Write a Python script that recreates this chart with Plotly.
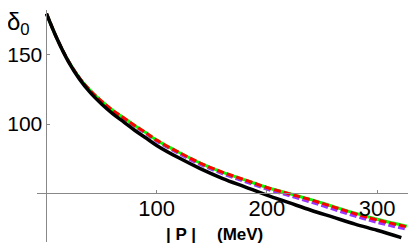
import plotly.graph_objects as go

# Momentum |P| (MeV)
p_black = [0, 10, 20, 30, 40, 50, 60, 70, 80, 90, 100, 120, 140, 160, 180, 200, 220, 240, 260, 280, 300, 322]
delta_black = [180, 161, 145, 132.5, 122.5, 114.5, 107.5, 101.5, 95.5, 90, 84.5, 75.5, 67.5, 60.5, 54.5, 48.5, 43, 37.5, 32.5, 27.5, 23, 17.7]

p_col = [0, 10, 20, 30, 40, 50, 60, 70, 80, 90, 100, 120, 140, 160, 180, 200, 220, 240, 260, 280, 300, 327]
delta_red = [180, 161, 145.5, 133.3, 124, 116.5, 110, 104.5, 99, 93.8, 88.3, 79.5, 71.5, 65, 59.5, 54, 49.5, 45, 40, 35, 30.5, 25.5]
delta_green = [180, 161, 145.5, 133.3, 124, 116.5, 110, 104.5, 99, 93.8, 88.3, 79.5, 71.5, 65, 59.5, 54, 49.6, 45.2, 40.3, 35.4, 31, 26]
delta_purple = [180, 161, 145.5, 133.3, 124, 116.3, 109.7, 104.1, 98.5, 93.2, 87.6, 78.6, 70.5, 63.9, 58.3, 52.8, 48.1, 43.4, 38.3, 33.3, 28.7, 23.7]

x_ticks = [100, 200, 300]
y_ticks = [100, 150]

FONT = "Liberation Sans, Arial, sans-serif"

fig = go.Figure()
fig.add_trace(go.Scatter(x=p_col, y=delta_purple, mode="lines", line=dict(color="#9933FF", width=3, dash="7px,3px", shape="spline")))
fig.add_trace(go.Scatter(x=p_col, y=delta_green, mode="lines", line=dict(color="#00FF00", width=3, shape="spline")))
fig.add_trace(go.Scatter(x=p_col, y=delta_red, mode="lines", line=dict(color="#FF0000", width=3, dash="7px,3px", shape="spline")))
fig.add_trace(go.Scatter(x=p_black, y=delta_black, mode="lines", line=dict(color="black", width=3.5, shape="spline")))

xr = [-8.6, 335.3]
yr = [14.5, 182.6]
x_pos = (0 - xr[0]) / (xr[1] - xr[0])
y_pos = (50 - yr[0]) / (yr[1] - yr[0])

# The page body adds an 8px offset; margins compensate for it.
fig.update_layout(
    width=416, height=248,
    margin=dict(l=29, r=8, t=2, b=14, pad=0, autoexpand=False),
    paper_bgcolor="white", plot_bgcolor="white",
    showlegend=False,
    xaxis=dict(range=xr, anchor="free", position=y_pos, showline=True, linecolor="#888888", linewidth=1,
               ticks="inside", ticklen=3, tickcolor="#888888", tickvals=x_ticks, automargin=False,
               ticklabelstandoff=-4,
               tickfont=dict(family=FONT, size=22, color="black"),
               showgrid=False, zeroline=False),
    yaxis=dict(range=yr, anchor="free", position=x_pos, showline=True, linecolor="#888888", linewidth=1,
               ticks="inside", ticklen=3, tickcolor="#888888", tickvals=y_ticks, automargin=False,
               tickfont=dict(family=FONT, size=21, color="black"),
               showgrid=False, zeroline=False),
    annotations=[
        dict(text="δ<sub>0</sub>", xref="paper", yref="paper", x=-0.05, y=0.94, xanchor="center", yanchor="middle",
             showarrow=False, font=dict(family=FONT, size=24, color="black")),
        dict(text="<b>| P |</b>", xref="x", yref="paper", x=(181 - 46.5) / 1.102, y=0.0, xanchor="center", yanchor="middle",
             yshift=8, showarrow=False, font=dict(family=FONT, size=17, color="black")),
        dict(text="<b>(MeV)</b>", xref="x", yref="paper", x=(240 - 46.5) / 1.102, y=0.0, xanchor="center", yanchor="middle",
             yshift=8, showarrow=False, font=dict(family=FONT, size=17, color="black")),
    ],
)

fig.write_html("out.html")
